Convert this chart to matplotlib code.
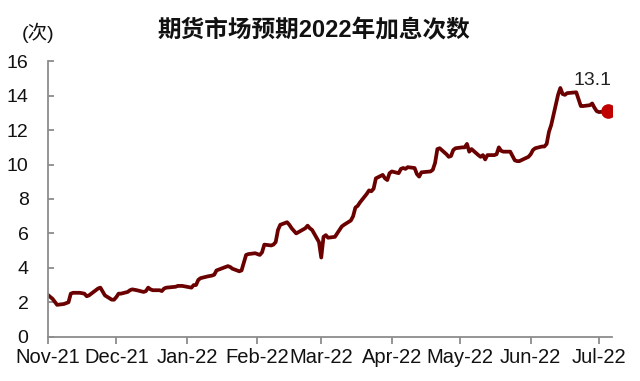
import numpy as np
import pandas as pd
import matplotlib
matplotlib.use('Agg')
from matplotlib import pyplot as plt
import matplotlib.dates as mdates

plt.rcParams['font.family'] = ['Liberation Sans', 'Noto Sans CJK SC', 'DejaVu Sans']

dates = [
	'2021-11-01', '2021-11-03', '2021-11-05', '2021-11-08', '2021-11-09', '2021-11-10',
	'2021-11-11', '2021-11-12', '2021-11-15', '2021-11-17', '2021-11-18', '2021-11-19',
	'2021-11-22', '2021-11-23', '2021-11-24', '2021-11-26', '2021-11-29', '2021-11-30',
	'2021-12-01', '2021-12-02', '2021-12-03', '2021-12-06', '2021-12-07', '2021-12-08',
	'2021-12-10', '2021-12-13', '2021-12-14', '2021-12-15', '2021-12-16', '2021-12-17',
	'2021-12-20', '2021-12-21', '2021-12-22', '2021-12-23', '2021-12-27', '2021-12-28',
	'2021-12-30', '2022-01-03', '2022-01-04', '2022-01-05', '2022-01-06', '2022-01-07',
	'2022-01-10', '2022-01-12', '2022-01-13', '2022-01-14', '2022-01-18', '2022-01-19',
	'2022-01-20', '2022-01-21', '2022-01-24', '2022-01-25', '2022-01-26', '2022-01-27',
	'2022-01-28', '2022-01-31', '2022-02-01', '2022-02-02', '2022-02-03', '2022-02-04',
	'2022-02-07', '2022-02-08', '2022-02-09', '2022-02-10', '2022-02-11', '2022-02-14',
	'2022-02-15', '2022-02-16', '2022-02-17', '2022-02-18', '2022-02-22', '2022-02-23',
	'2022-02-24', '2022-02-25', '2022-02-28', '2022-03-01', '2022-03-02', '2022-03-03',
	'2022-03-04', '2022-03-07', '2022-03-08', '2022-03-09', '2022-03-10', '2022-03-11',
	'2022-03-14', '2022-03-15', '2022-03-16', '2022-03-17', '2022-03-18', '2022-03-21',
	'2022-03-22', '2022-03-23', '2022-03-24', '2022-03-25', '2022-03-28', '2022-03-29',
	'2022-03-30', '2022-03-31', '2022-04-01', '2022-04-04', '2022-04-05', '2022-04-06',
	'2022-04-07', '2022-04-08', '2022-04-11', '2022-04-12', '2022-04-13', '2022-04-14',
	'2022-04-18', '2022-04-19', '2022-04-20', '2022-04-21', '2022-04-22', '2022-04-25',
	'2022-04-26', '2022-04-27', '2022-04-28', '2022-04-29', '2022-05-02', '2022-05-03',
	'2022-05-04', '2022-05-05', '2022-05-06', '2022-05-09', '2022-05-10', '2022-05-11',
	'2022-05-12', '2022-05-13', '2022-05-16', '2022-05-17', '2022-05-18', '2022-05-19',
	'2022-05-20', '2022-05-23', '2022-05-24', '2022-05-25', '2022-05-26', '2022-05-27',
	'2022-05-31', '2022-06-01', '2022-06-02', '2022-06-03', '2022-06-06', '2022-06-07',
	'2022-06-08', '2022-06-09', '2022-06-10', '2022-06-13', '2022-06-14', '2022-06-15',
	'2022-06-16', '2022-06-17', '2022-06-21', '2022-06-22', '2022-06-23', '2022-06-24',
	'2022-06-27', '2022-06-28', '2022-06-29', '2022-06-30', '2022-07-01', '2022-07-05',
]
hikes = [
	2.42, 2.20, 1.85, 1.90, 1.95, 2.00,
	2.50, 2.55, 2.55, 2.50, 2.35, 2.40,
	2.70, 2.80, 2.85, 2.40, 2.15, 2.15,
	2.30, 2.50, 2.50, 2.60, 2.70, 2.75,
	2.70, 2.60, 2.65, 2.85, 2.75, 2.70,
	2.70, 2.65, 2.80, 2.85, 2.90, 2.95,
	2.95, 2.85, 3.00, 3.00, 3.30, 3.40,
	3.50, 3.55, 3.60, 3.85, 4.05, 4.10,
	4.05, 3.95, 3.80, 3.85, 4.30, 4.75,
	4.80, 4.85, 4.80, 4.75, 4.90, 5.35,
	5.30, 5.35, 5.50, 6.20, 6.50, 6.65,
	6.50, 6.30, 6.15, 6.00, 6.30, 6.45,
	6.30, 6.20, 5.50, 4.60, 5.80, 5.90,
	5.75, 5.80, 6.00, 6.20, 6.40, 6.50,
	6.75, 7.00, 7.50, 7.60, 7.80, 8.30,
	8.50, 8.45, 8.60, 9.20, 9.40, 9.20,
	9.10, 9.50, 9.60, 9.50, 9.75, 9.80,
	9.75, 9.85, 9.80, 9.45, 9.30, 9.55,
	9.60, 9.70, 10.10, 10.90, 10.95, 10.60,
	10.45, 10.50, 10.85, 10.95, 11.00, 11.00,
	11.20, 10.75, 10.90, 10.55, 10.45, 10.55,
	10.30, 10.55, 10.55, 10.60, 11.00, 10.80,
	10.75, 10.75, 10.50, 10.25, 10.20, 10.20,
	10.45, 10.60, 10.85, 10.95, 11.05, 11.05,
	11.20, 11.90, 12.30, 14.05, 14.45, 14.10,
	14.05, 14.15, 14.20, 13.80, 13.40, 13.40,
	13.45, 13.55, 13.30, 13.10, 13.05, 13.10,
]
title = '期货市场预期2022年加息次数'
unit = '(次)'

x = pd.to_datetime(dates)
y = np.array(hikes)

fig = plt.figure(figsize=(6.4, 3.81), dpi=100)
ax = fig.add_axes([0.075, 0.1163, 0.881, 0.7228])

ax.plot(x, y, color='#6B0000', lw=2.7, solid_joinstyle='round', zorder=2)
ax.plot(x[-1], y[-1], 'o', color='#C00000', ms=9.5, zorder=3)
ax.text(pd.Timestamp('2022-06-28'), 14.9, f'{y[-1]:.1f}', fontsize=14,
	ha='center', va='center', color='#222222')

ax.set_ylim(0, 16)
ax.set_yticks(range(0, 17, 2))
ax.set_xlim(pd.Timestamp('2021-11-01'), pd.Timestamp('2022-07-06 15:00'))
ax.xaxis.set_major_locator(mdates.MonthLocator())
ax.xaxis.set_major_formatter(mdates.DateFormatter('%b-%y'))

for s in ['top', 'right']:
	ax.spines[s].set_visible(False)
for s in ['left', 'bottom']:
	ax.spines[s].set_color('#8C8C8C')
	ax.spines[s].set_linewidth(1.3)

ax.tick_params(axis='y', direction='in', length=4, width=1.3, color='#8C8C8C',
	labelsize=14, pad=14, labelcolor='#111111')
ax.tick_params(axis='x', direction='out', length=5, width=1.3, color='#8C8C8C',
	labelsize=14.5, pad=3, labelcolor='#111111')

fig.text(0.49, 0.92, title, fontsize=17, fontweight='bold', ha='center', va='center',
	color='#111111')
fig.text(0.06, 0.913, unit, fontsize=14, ha='center', va='center', color='#111111')

fig.savefig('out.png', dpi=100)
